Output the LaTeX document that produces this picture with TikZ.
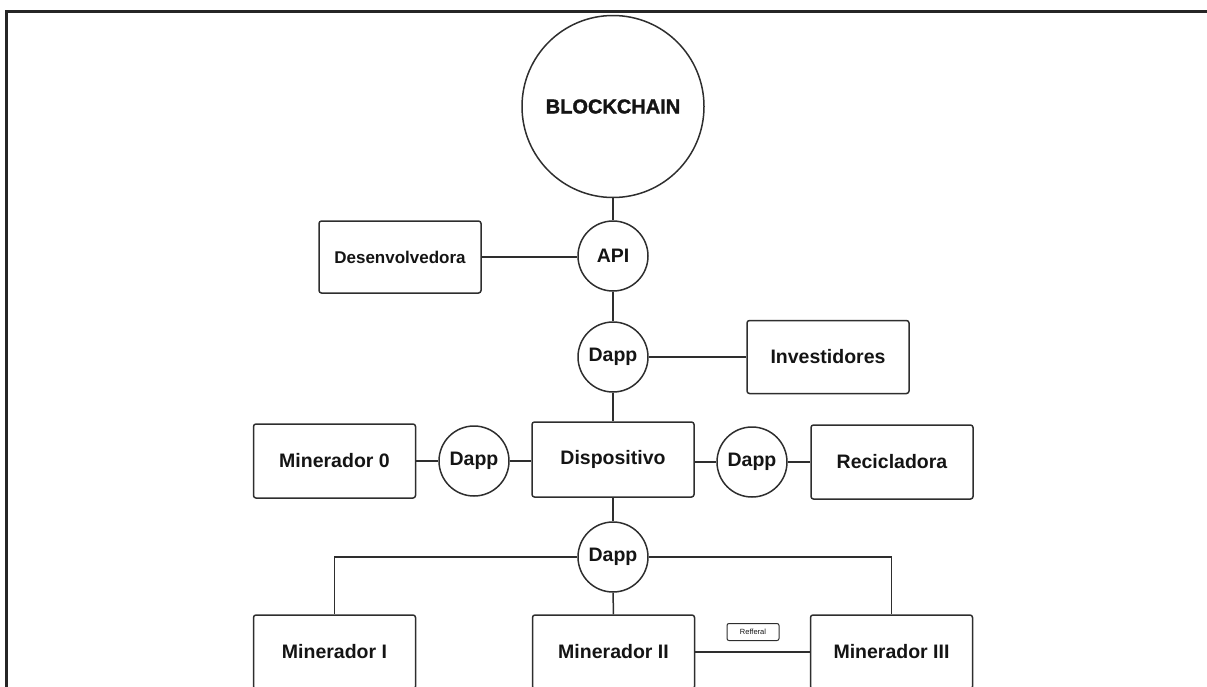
\documentclass[tikz,border=0pt]{standalone}
\usepackage{fontspec}
\setmainfont{Liberation Sans}
\newfontfamily\heavyfont[BoldFont={Liberation Sans Bold}, BoldFeatures={FakeBold=1.6}]{Liberation Sans}
\begin{document}
\begin{tikzpicture}[x=1pt,y=1pt,
  line width=1.5pt,
  every node/.style={font=\bfseries\fontsize{19.5}{21}\selectfont, text=black!92},
  boxn/.style={draw=black!82, line width=1.5pt, rounded corners=2.5pt, minimum width=162pt, minimum height=74pt, inner sep=0pt},
  circn/.style={draw=black!82, line width=1.5pt, circle, minimum size=70pt, inner sep=0pt},
  conn/.style={draw=black!82, line width=1.5pt}]
\useasboundingbox (0,0) rectangle (1207,-686);
% frame
\coordinate (fb) at (6.5,-690);
\coordinate (fc) at (6.5,-11.5);
\coordinate (fr) at (1210,-11.5);
\draw[line width=2.5pt, black!85] (fb) -- (fc) -- (fr);

\node[circn, minimum size=182pt, font=\heavyfont\bfseries\fontsize{20}{22}\selectfont] (bc) at (613,-106.5) {BLOCKCHAIN};
\node[circn] (api) at (613,-256) {API};
\node[boxn, minimum height=72pt, font=\bfseries\fontsize{17}{19}\selectfont] (des) at (400,-257) {Desenvolvedora};
\node[circn] (d1) at (613,-357) {Dapp};
\node[boxn, minimum height=73pt] (inv) at (828,-357) {Investidores};
\node[boxn, minimum height=75pt] (disp) at (613,-459.5) {Dispositivo};
\node[boxn] (m0) at (334.5,-461) {Minerador 0};
\node[circn] (dl) at (474,-461) {Dapp};
\node[circn] (dr) at (752,-462) {Dapp};
\node[boxn] (rec) at (892,-462) {Recicladora};
\node[circn] (db) at (613,-557) {Dapp};
\node[boxn] (m1) at (334.5,-652) {Minerador I};
\node[boxn] (m2) at (613.5,-652) {Minerador II};
\node[boxn] (m3) at (891.5,-652) {Minerador III};
\node[draw=black!82, line width=1pt, rounded corners=2pt, minimum width=52pt, minimum height=17pt, inner sep=0pt, font=\fontsize{7.5}{8}\selectfont] (ref) at (753,-632) {Refferal};

\draw[conn] (bc) -- (api);
\draw[conn] (des.east) -- (des.east -| api.west);
\draw[conn] (api) -- (d1);
\draw[conn] (d1) -- (inv);
\draw[conn] (d1) -- (disp);
\draw[conn] (m0) -- (dl);
\draw[conn] (dl.east) -- (dl.east -| disp.west);
\draw[conn] (disp.east |- dr.west) -- (dr);
\draw[conn] (dr) -- (rec);
\draw[conn] (disp) -- (db);
\draw[conn] (db) -- (m2);
\draw[conn] (db.west) -- (db.west -| m1) -- (m1.north);
\draw[conn] (db.east) -- (db.east -| m3) -- (m3.north);
\draw[conn] (m2) -- (m3);
\end{tikzpicture}
\end{document}
